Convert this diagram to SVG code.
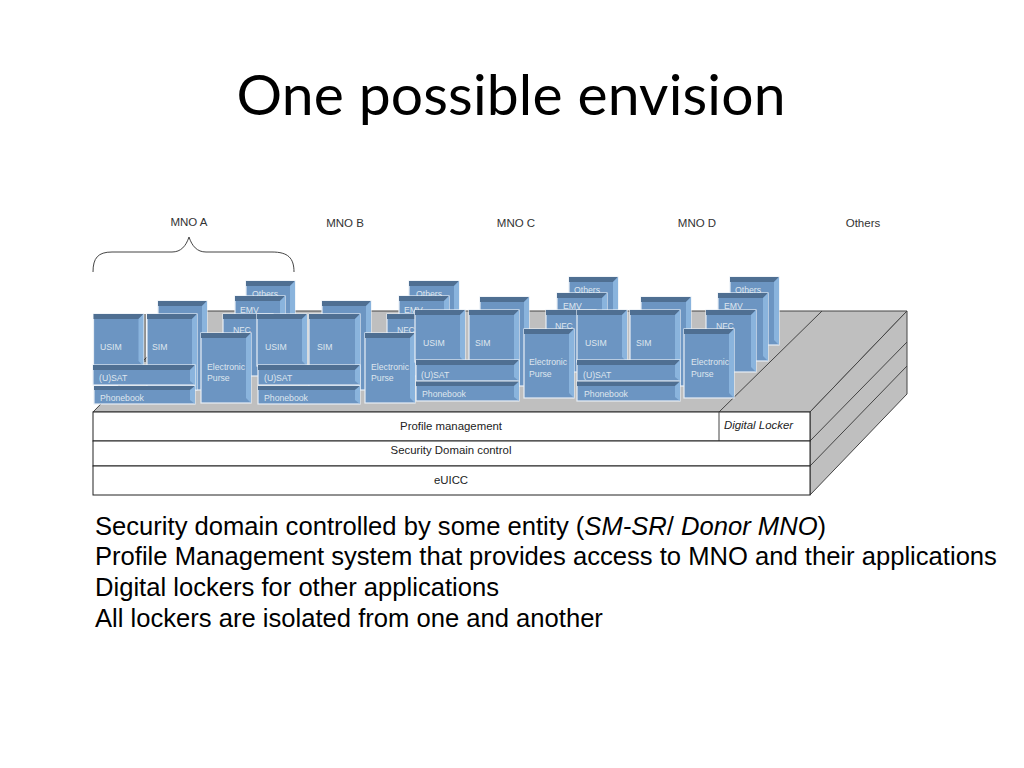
<svg xmlns="http://www.w3.org/2000/svg" width="1024" height="768" viewBox="0 0 1024 768">
<style>
text{font-family:"Liberation Sans",Arial,sans-serif}
.t{font-family:Lato,"Liberation Sans",sans-serif;font-size:57px;fill:#000}
.b{font-size:25.6px;fill:#000}
.m{font-size:11.5px;fill:#333}
.l{font-size:11.4px;fill:#222}
.s{font-size:8.7px;fill:#dfe6ee}
.f{fill:#6c95c2;stroke:#e8eef5;stroke-width:1.2}
.top{fill:#4f6f92}
.r{fill:#8ab4dd}
.g{fill:#bfbfbf;stroke:#444;stroke-width:1}
.w{fill:#fff;stroke:#222;stroke-width:1}
.e{fill:none;stroke:#444;stroke-width:1}
</style>
<text class="t" x="511" y="115" text-anchor="middle" textLength="549">One possible envision</text>
<g id="labels">
<text class="m" x="189" y="226" text-anchor="middle">MNO A</text>
<text class="m" x="345" y="227" text-anchor="middle">MNO B</text>
<text class="m" x="516" y="227" text-anchor="middle">MNO C</text>
<text class="m" x="697" y="227" text-anchor="middle">MNO D</text>
<text class="m" x="863" y="227" text-anchor="middle">Others</text>
</g>
<g id="connectors"><path class="e" d="M93 272C93 258 98 252 112 252H172C181 252 186 246 189 237C192 246 197 252 206 252H272C288 252 294 258 294 272"/></g>
<g id="platform">
<polygon class="g" points="93,412 192,311 907,311 810,412"/>
<polygon class="g" points="810,412 907,311 907,394 810,495"/>
<line class="e" x1="719" y1="412" x2="822" y2="311"/>
<line class="e" x1="810" y1="441" x2="907" y2="342"/>
<line class="e" x1="810" y1="466" x2="907" y2="366"/>
<line x1="145" y1="314" x2="145" y2="362" stroke="#222" stroke-width="1"/>
</g>
<g id="mno-a">
<rect class="f" x="246" y="281" width="49" height="60"/><polygon class="top" points="246,281 295,281 290,286 246,286"/><polygon class="r" points="290,286 295,281 295,341 290,336"/><text class="s" x="252" y="297">Others</text>
<rect class="f" x="235" y="296" width="50" height="60"/><polygon class="top" points="235,296 285,296 280,301 235,301"/><polygon class="r" points="280,301 285,296 285,356 280,351"/><text class="s" x="240" y="313">EMV</text>
<rect class="f" x="158" y="301" width="49" height="89"/><polygon class="top" points="158,301 207,301 202,306 158,306"/><polygon class="r" points="202,306 207,301 207,390 202,385"/>
<rect class="f" x="223" y="314" width="50" height="62"/><polygon class="top" points="223,314 273,314 268,319 223,319"/><polygon class="r" points="268,319 273,314 273,376 268,371"/><text class="s" x="233" y="333">NFC</text>
<rect class="f" x="93.500" y="314" width="50" height="52"/><polygon class="top" points="93.500,314 143.500,314 138.500,319 93.500,319"/><polygon class="r" points="138.500,319 143.500,314 143.500,366 138.500,361"/><text class="s" x="100" y="350">USIM</text>
<rect class="f" x="147" y="314" width="50" height="76"/><polygon class="top" points="147,314 197,314 192,319 147,319"/><polygon class="r" points="192,319 197,314 197,390 192,385"/><text class="s" x="152" y="350">SIM</text>
<rect class="f" x="93" y="365" width="102" height="20"/><polygon class="top" points="93,365 195,365 190,370 93,370"/><polygon class="r" points="190,370 195,365 195,385 190,381"/><text class="s" x="99" y="381">(U)SAT</text>
<rect class="f" x="94" y="386" width="101" height="18"/><polygon class="top" points="94,386 195,386 190,390 94,390"/><polygon class="r" points="190,390 195,386 195,404 190,400"/><text class="s" x="100" y="401">Phonebook</text>
<rect class="f" x="201" y="333" width="50" height="70"/><polygon class="top" points="201,333 251,333 246,338 201,338"/><polygon class="r" points="246,338 251,333 251,403 246,398"/><text class="s" x="207" y="370">Electronic</text><text class="s" x="207" y="381">Purse</text>
</g>
<g id="mno-b">
<rect class="f" x="409" y="281" width="50" height="60"/><polygon class="top" points="409,281 459,281 454,286 409,286"/><polygon class="r" points="454,286 459,281 459,341 454,336"/><text class="s" x="416" y="297">Others</text>
<rect class="f" x="399" y="296" width="50" height="60"/><polygon class="top" points="399,296 449,296 444,301 399,301"/><polygon class="r" points="444,301 449,296 449,356 444,351"/><text class="s" x="404" y="313">EMV</text>
<rect class="f" x="322" y="301" width="49" height="89"/><polygon class="top" points="322,301 371,301 366,306 322,306"/><polygon class="r" points="366,306 371,301 371,390 366,385"/>
<rect class="f" x="387" y="314" width="50" height="62"/><polygon class="top" points="387,314 437,314 432,319 387,319"/><polygon class="r" points="432,319 437,314 437,376 432,371"/><text class="s" x="397" y="333">NFC</text>
<rect class="f" x="257" y="314" width="50" height="52"/><polygon class="top" points="257,314 307,314 302,319 257,319"/><polygon class="r" points="302,319 307,314 307,366 302,361"/><text class="s" x="265" y="350">USIM</text>
<rect class="f" x="309" y="314" width="51" height="76"/><polygon class="top" points="309,314 360,314 355,319 309,319"/><polygon class="r" points="355,319 360,314 360,390 355,385"/><text class="s" x="317" y="350">SIM</text>
<rect class="f" x="258" y="365" width="102" height="20"/><polygon class="top" points="258,365 360,365 355,370 258,370"/><polygon class="r" points="355,370 360,365 360,385 355,381"/><text class="s" x="264" y="381">(U)SAT</text>
<rect class="f" x="258" y="386" width="102" height="18"/><polygon class="top" points="258,386 360,386 355,390 258,390"/><polygon class="r" points="355,390 360,386 360,404 355,400"/><text class="s" x="264" y="401">Phonebook</text>
<rect class="f" x="365" y="333" width="50" height="70"/><polygon class="top" points="365,333 415,333 410,338 365,338"/><polygon class="r" points="410,338 415,333 415,403 410,398"/><text class="s" x="371" y="370">Electronic</text><text class="s" x="371" y="381">Purse</text>
</g>
<g id="mno-c">
<rect class="f" x="569" y="277" width="49" height="60"/><polygon class="top" points="569,277 618,277 613,282 569,282"/><polygon class="r" points="613,282 618,277 618,337 613,332"/><text class="s" x="574" y="293">Others</text>
<rect class="f" x="557" y="293" width="50" height="60"/><polygon class="top" points="557,293 607,293 602,298 557,298"/><polygon class="r" points="602,298 607,293 607,353 602,348"/><text class="s" x="563" y="309">EMV</text>
<rect class="f" x="480" y="297" width="49" height="89"/><polygon class="top" points="480,297 529,297 524,302 480,302"/><polygon class="r" points="524,302 529,297 529,386 524,381"/>
<rect class="f" x="546" y="310" width="50" height="62"/><polygon class="top" points="546,310 596,310 591,315 546,315"/><polygon class="r" points="591,315 596,310 596,372 591,367"/><text class="s" x="555" y="329">NFC</text>
<rect class="f" x="415" y="310" width="50" height="52"/><polygon class="top" points="415,310 465,310 460,315 415,315"/><polygon class="r" points="460,315 465,310 465,362 460,357"/><text class="s" x="423" y="346">USIM</text>
<rect class="f" x="469" y="310" width="50" height="76"/><polygon class="top" points="469,310 519,310 514,315 469,315"/><polygon class="r" points="514,315 519,310 519,386 514,381"/><text class="s" x="475" y="346">SIM</text>
<rect class="f" x="416" y="360" width="103" height="21"/><polygon class="top" points="416,360 519,360 514,365 416,365"/><polygon class="r" points="514,365 519,360 519,381 514,377"/><text class="s" x="421" y="378">(U)SAT</text>
<rect class="f" x="416" y="381.500" width="103" height="19.500"/><polygon class="top" points="416,381.500 519,381.500 514,386 416,386"/><polygon class="r" points="514,386 519,381.500 519,401 514,397"/><text class="s" x="422" y="397">Phonebook</text>
<rect class="f" x="524" y="329" width="50" height="69"/><polygon class="top" points="524,329 574,329 569,334 524,334"/><polygon class="r" points="569,334 574,329 574,398 569,393"/><text class="s" x="529" y="365">Electronic</text><text class="s" x="529" y="377">Purse</text>
</g>
<g id="mno-d">
<rect class="f" x="730" y="277" width="49" height="68"/><polygon class="top" points="730,277 779,277 774,282 730,282"/><polygon class="r" points="774,282 779,277 779,345 774,340"/><text class="s" x="735" y="293">Others</text>
<rect class="f" x="718" y="293" width="50" height="68"/><polygon class="top" points="718,293 768,293 763,298 718,298"/><polygon class="r" points="763,298 768,293 768,361 763,356"/><text class="s" x="724" y="309">EMV</text>
<rect class="f" x="641" y="297" width="50" height="89"/><polygon class="top" points="641,297 691,297 686,302 641,302"/><polygon class="r" points="686,302 691,297 691,386 686,381"/>
<rect class="f" x="706" y="310" width="50" height="62"/><polygon class="top" points="706,310 756,310 751,315 706,315"/><polygon class="r" points="751,315 756,310 756,372 751,367"/><text class="s" x="716" y="329">NFC</text>
<rect class="f" x="577" y="310" width="50" height="52"/><polygon class="top" points="577,310 627,310 622,315 577,315"/><polygon class="r" points="622,315 627,310 627,362 622,357"/><text class="s" x="585" y="346">USIM</text>
<rect class="f" x="630" y="310" width="50" height="76"/><polygon class="top" points="630,310 680,310 675,315 630,315"/><polygon class="r" points="675,315 680,310 680,386 675,381"/><text class="s" x="636" y="346">SIM</text>
<rect class="f" x="577" y="360" width="103" height="21"/><polygon class="top" points="577,360 680,360 675,365 577,365"/><polygon class="r" points="675,365 680,360 680,381 675,377"/><text class="s" x="583" y="378">(U)SAT</text>
<rect class="f" x="577" y="381.500" width="103" height="19.500"/><polygon class="top" points="577,381.500 680,381.500 675,386 577,386"/><polygon class="r" points="675,386 680,381.500 680,401 675,397"/><text class="s" x="584" y="397">Phonebook</text>
<rect class="f" x="684" y="329" width="50" height="69"/><polygon class="top" points="684,329 734,329 729,334 684,334"/><polygon class="r" points="729,334 734,329 734,398 729,393"/><text class="s" x="691" y="365">Electronic</text><text class="s" x="691" y="377">Purse</text>
</g>
<g id="profile-management"><rect class="w" x="93" y="412" width="717" height="29"/><line class="e" x1="719" y1="412" x2="719" y2="441"/><text class="l" x="451" y="430" text-anchor="middle">Profile management</text></g>
<g id="digital-locker"><text class="l" x="724" y="429" font-style="italic">Digital Locker</text></g>
<g id="security-domain"><rect class="w" x="93" y="441" width="717" height="25"/><text class="l" x="451" y="454" text-anchor="middle">Security Domain control</text></g>
<g id="euicc"><rect class="w" x="93" y="466" width="717" height="29"/><text class="l" x="451" y="484" text-anchor="middle">eUICC</text></g>
<g id="body">
<text class="b" x="95" y="535">Security domain controlled by some entity (<tspan font-style="italic">SM-SR</tspan>/ <tspan font-style="italic">Donor MNO</tspan>)</text>
<text class="b" x="95" y="565">Profile Management system that provides access to MNO and their applications</text>
<text class="b" x="95" y="596">Digital lockers for other applications</text>
<text class="b" x="95" y="627">All lockers are isolated from one and another</text>
</g>
</svg>
